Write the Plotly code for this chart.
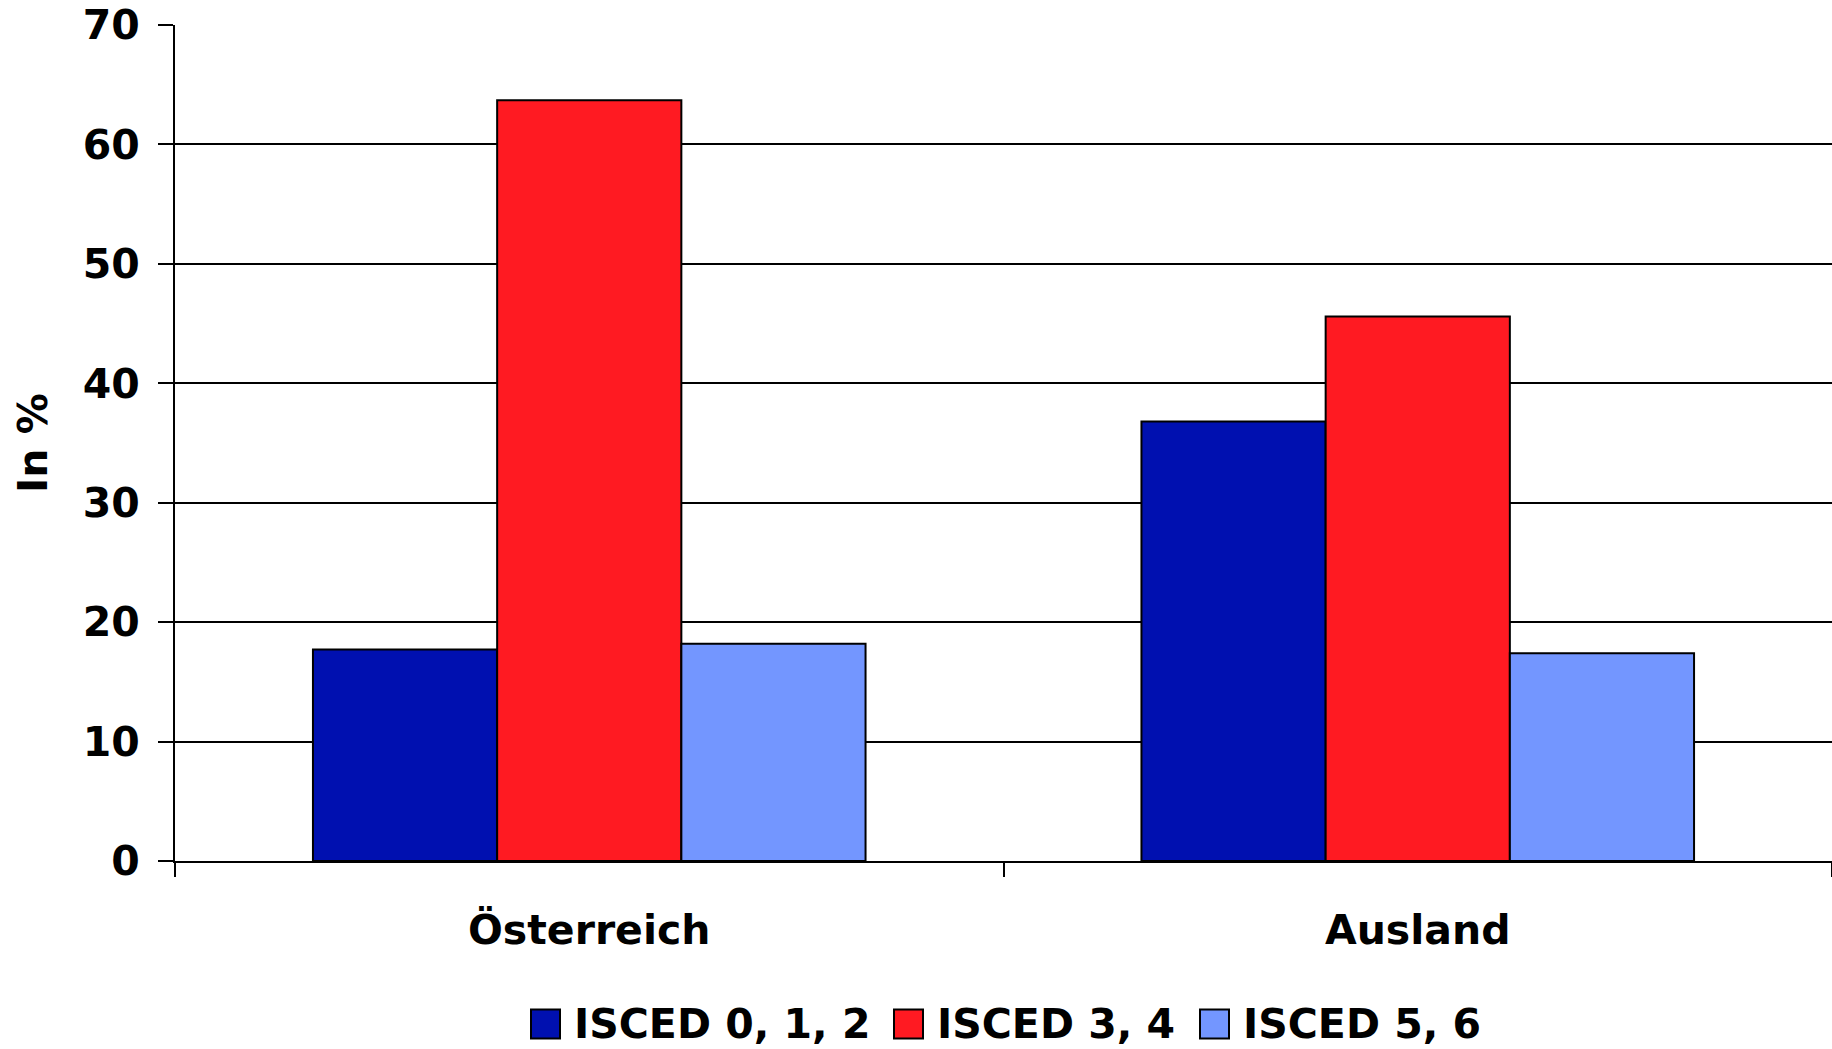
import plotly.graph_objects as go

# Data
categories = ["Österreich", "Ausland"]
series_names = ["ISCED 0, 1, 2", "ISCED 3, 4", "ISCED 5, 6"]
isced_012 = [17.7, 36.8]
isced_34 = [63.7, 45.6]
isced_56 = [18.2, 17.4]
y_ticks = [0, 10, 20, 30, 40, 50, 60, 70]

series_values = [isced_012, isced_34, isced_56]
colors = ["#0010B0", "#FF1A22", "#7396FF"]

FONT = "'DejaVu Sans', Lato, sans-serif"
FSIZE = 41
W, H = 1832, 1049
ML, MR, MT, MB = 175, 0, 25, 188

fig = go.Figure()
for name, vals, col in zip(series_names, series_values, colors):
    fig.add_trace(go.Bar(
        x=categories, y=vals, name=name,
        marker=dict(color=col, line=dict(color="black", width=2)),
        showlegend=False,
    ))

# Legend drawn as boxes with labels under the plot
plot_w = W - ML - MR
plot_h = H - MT - MB
def px_x(p):
    return (p - ML) / plot_w
def px_y(p):
    return (H - MB - p) / plot_h

box_left = [531, 894, 1200]
box_size = 29
leg_center = 1024
for name, col, bx in zip(series_names, colors, box_left):
    fig.add_shape(type="rect", xref="paper", yref="paper",
                  x0=px_x(bx), x1=px_x(bx + box_size),
                  y0=px_y(leg_center + box_size / 2), y1=px_y(leg_center - box_size / 2),
                  fillcolor=col, line=dict(color="black", width=2))
    fig.add_annotation(xref="paper", yref="paper",
                       x=px_x(bx + box_size + 12), y=px_y(leg_center),
                       xanchor="left", yanchor="middle", showarrow=False,
                       text=name, font=dict(family=FONT, size=FSIZE, color="black", weight="bold"))

fig.update_layout(
    width=W, height=H,
    margin=dict(l=ML, r=MR, t=MT, b=MB, pad=0),
    paper_bgcolor="white", plot_bgcolor="white",
    barmode="group", bargap=0.333, bargroupgap=0,
    font=dict(family=FONT, size=FSIZE, color="black", weight="bold"),
    showlegend=False,
)
fig.update_xaxes(
    type="category", tickson="boundaries", range=[-0.5, 1.5],
    ticks="outside", ticklen=14, tickwidth=2, tickcolor="black",
    showline=True, linecolor="black", linewidth=2,
    showgrid=False, ticklabelstandoff=32,
    tickfont=dict(family=FONT, size=FSIZE, color="black", weight="bold"),
)
fig.update_yaxes(
    range=[0, 70], tickvals=y_ticks,
    ticks="outside", ticklen=15, tickwidth=2, tickcolor="black",
    showline=True, linecolor="black", linewidth=2,
    showgrid=True, gridcolor="black", gridwidth=2,
    zeroline=False, ticklabelstandoff=10, ticklabeloverflow="allow",
    tickfont=dict(family=FONT, size=FSIZE, color="black", weight="bold"),
    title=dict(text="In %", standoff=22,
               font=dict(family=FONT, size=FSIZE, color="black", weight="bold")),
)

fig.write_html("out.html")
